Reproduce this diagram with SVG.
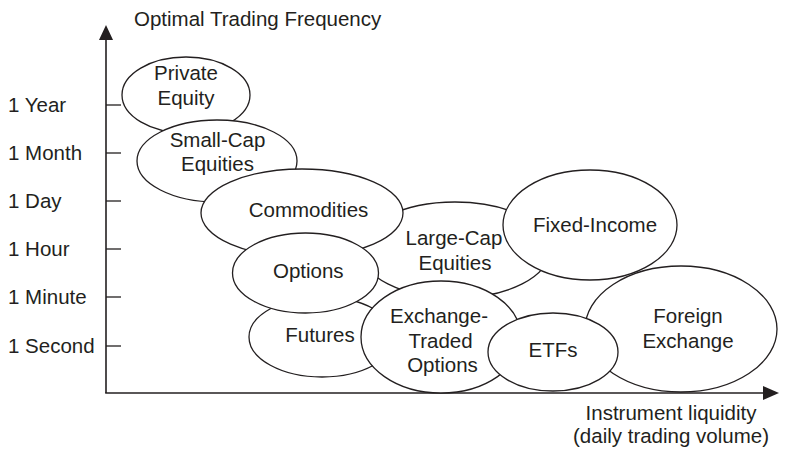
<svg xmlns="http://www.w3.org/2000/svg" width="786" height="449" viewBox="0 0 786 449">
<style>
  text { font-family: "Liberation Sans", Arial, sans-serif; font-size: 20.5px; fill: #231f20; }
  .c { text-anchor: middle; }
  .node ellipse { fill: #ffffff; stroke: #231f20; stroke-width: 1.3; }
  .axis { stroke: #231f20; stroke-width: 1.6; fill: none; }
  .tick { stroke: #231f20; stroke-width: 1.3; }
</style>
<rect x="0" y="0" width="786" height="449" fill="#ffffff"/>
<g id="axes">
  <line class="axis" x1="106" y1="38" x2="106" y2="393"/>
  <line class="axis" x1="105.2" y1="393" x2="765" y2="393"/>
  <polygon points="99,40 113,40 106,25" fill="#231f20"/>
  <polygon points="763,386 763,400 779,393" fill="#231f20"/>
  <line class="tick" x1="106" y1="105" x2="121" y2="105"/>
  <line class="tick" x1="106" y1="153" x2="121" y2="153"/>
  <line class="tick" x1="106" y1="201" x2="121" y2="201"/>
  <line class="tick" x1="106" y1="249" x2="121" y2="249"/>
  <line class="tick" x1="106" y1="297" x2="121" y2="297"/>
  <line class="tick" x1="106" y1="346" x2="121" y2="346"/>
  <text x="134" y="26">Optimal Trading Frequency</text>
  <text x="8" y="112">1 Year</text>
  <text x="8" y="160">1 Month</text>
  <text x="8" y="208">1 Day</text>
  <text x="8" y="256">1 Hour</text>
  <text x="8" y="304">1 Minute</text>
  <text x="8" y="353">1 Second</text>
  <text class="c" x="671" y="420">Instrument liquidity</text>
  <text class="c" x="671" y="443">(daily trading volume)</text>
</g>
<g id="connectors"></g>
<g id="node-private-equity" class="node">
  <ellipse cx="186" cy="95" rx="64" ry="38"/>
  <text class="c" x="186" y="80">Private</text>
  <text class="c" x="186" y="105">Equity</text>
</g>
<g id="node-small-cap" class="node">
  <ellipse cx="217" cy="161" rx="80" ry="41"/>
  <text class="c" x="217.5" y="147">Small-Cap</text>
  <text class="c" x="217.5" y="171">Equities</text>
</g>
<g id="node-large-cap" class="node">
  <ellipse cx="455" cy="250" rx="95" ry="48"/>
  <text class="c" x="454" y="245">Large-Cap</text>
  <text class="c" x="455" y="270">Equities</text>
</g>
<g id="node-commodities" class="node">
  <ellipse cx="302" cy="213" rx="101" ry="44"/>
  <text class="c" x="308.5" y="217">Commodities</text>
</g>
<g id="node-futures" class="node">
  <ellipse cx="322" cy="337" rx="73" ry="40"/>
  <text class="c" x="320" y="342">Futures</text>
</g>
<g id="node-options" class="node">
  <ellipse cx="305.5" cy="273" rx="73" ry="40"/>
  <text class="c" x="308.3" y="278">Options</text>
</g>
<g id="node-exchange-traded-options" class="node">
  <ellipse cx="441" cy="337" rx="80" ry="56"/>
  <text class="c" x="439" y="323">Exchange-</text>
  <text class="c" x="440.5" y="348">Traded</text>
  <text class="c" x="442.5" y="372">Options</text>
</g>
<g id="node-fixed-income" class="node">
  <ellipse cx="590" cy="225" rx="87" ry="55"/>
  <text class="c" x="595" y="232">Fixed-Income</text>
</g>
<g id="node-foreign-exchange" class="node">
  <ellipse cx="681" cy="329" rx="96" ry="63"/>
  <text class="c" x="688" y="323">Foreign</text>
  <text class="c" x="688" y="348">Exchange</text>
</g>
<g id="node-etfs" class="node">
  <ellipse cx="553" cy="352" rx="65" ry="39"/>
  <text class="c" x="553" y="357">ETFs</text>
</g>
</svg>
